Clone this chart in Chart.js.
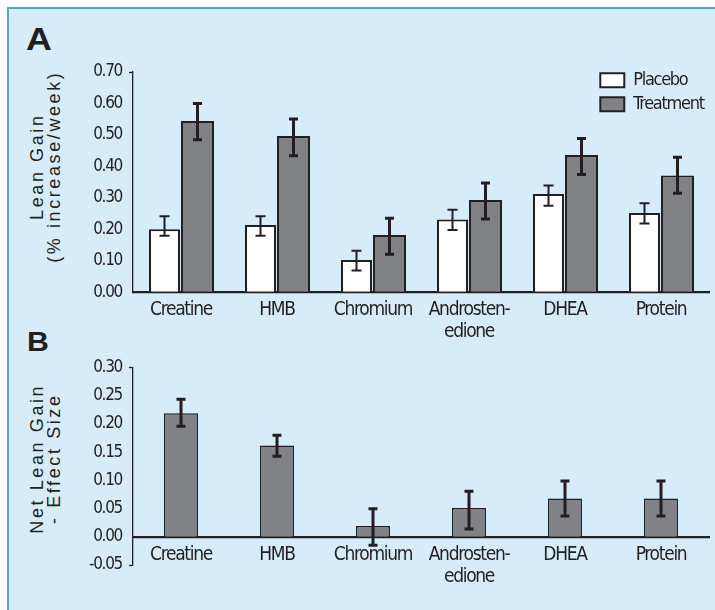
<!DOCTYPE html>
<html>
<head>
<meta charset="utf-8">
<title>Lean Gain by Supplement</title>
<script src="https://cdn.jsdelivr.net/npm/chart.js@4.4.1/dist/chart.umd.min.js"></script>
<style>
  html, body { margin: 0; padding: 0; background: #ffffff; }
  #page { position: relative; width: 715px; height: 610px; overflow: hidden; background: #ffffff; }
  #panel { position: absolute; left: 7px; top: 7px; right: 0; bottom: 0; background: #d6edf9;
           border-top: 2.7px solid #5aa3c8; border-left: 2.7px solid #5aa3c8; }
  canvas { position: absolute; left: 0; }
  #chartA { top: 0; }
  #chartB { top: 340px; }
  .tag { position: absolute; font-family: 'Liberation Sans', Arial, sans-serif; font-weight: bold; color: #231f20; line-height: 1; }
  .ytitle { position: absolute; font-family: 'Liberation Sans', Arial, sans-serif; font-size: 18px; line-height: 17px;
            letter-spacing: 2.6px; padding-left: 2.6px; color: #231f20; text-align: center; white-space: nowrap;
            transform: translate(-50%, -50%) rotate(-90deg); }
</style>
</head>
<body>
<div id="page">
  <div id="panel"></div>
  <div class="tag" style="left:26px; top:22.5px; font-size:32px; transform:scaleX(1.12); transform-origin:left top;">A</div>
  <div class="tag" style="left:27px; top:327.5px; font-size:28px; transform:scaleX(1.08); transform-origin:left top;">B</div>
  <div class="ytitle" style="left:46px; top:168px;">Lean Gain<br>(% increase/week)</div>
  <div class="ytitle" style="left:46px; top:460px;">Net Lean Gain<br>- Effect Size</div>
  <canvas id="chartA" width="715" height="350"></canvas>
  <canvas id="chartB" width="715" height="270"></canvas>
</div>
<script>
// Supplements compared in both panels
const categories = ['Creatine', 'HMB', 'Chromium', ['Androsten-', 'edione'], 'DHEA', 'Protein'];

// Panel A: lean gain, % increase per week
const placeboGain   = [0.200, 0.214, 0.103, 0.231, 0.312, 0.252];
const placeboLow    = [0.180, 0.180, 0.069, 0.198, 0.275, 0.219];
const placeboHigh   = [0.242, 0.242, 0.132, 0.262, 0.339, 0.283];
const treatmentGain = [0.544, 0.497, 0.182, 0.293, 0.436, 0.371];
const treatmentLow  = [0.485, 0.434, 0.121, 0.233, 0.374, 0.315];
const treatmentHigh = [0.600, 0.551, 0.235, 0.347, 0.489, 0.429];
const gainAxis = { min: 0, max: 0.70, step: 0.10 };

// Panel B: net lean gain effect size
const netEffect = [0.219, 0.162, 0.019, 0.051, 0.068, 0.068];
const netLow    = [0.196, 0.143, -0.015, 0.014, 0.037, 0.037];
const netHigh   = [0.244, 0.180, 0.050, 0.081, 0.099, 0.099];
const effectAxis = { min: -0.05, max: 0.30, step: 0.05 };

const INK = '#231f20';
const GREY = '#808285';
const NARROW = "'DejaVu Sans Condensed', 'Liberation Sans', sans-serif";

// Whiskers from each dataset's errLow / errHigh arrays
const errorBars = {
  id: 'errorBars',
  afterDatasetsDraw(chart) {
    const ctx = chart.ctx;
    const yScale = chart.scales.y;
    chart.data.datasets.forEach((ds, di) => {
      if (!ds.errLow) return;
      const meta = chart.getDatasetMeta(di);
      ctx.save();
      ctx.strokeStyle = INK;
      ctx.lineWidth = ds.errWidth;
      ctx.lineCap = 'butt';
      meta.data.forEach((bar, i) => {
        const yTop = yScale.getPixelForValue(ds.errHigh[i]);
        const yBot = yScale.getPixelForValue(ds.errLow[i]);
        const hw = ds.errCap;
        ctx.beginPath();
        ctx.moveTo(bar.x, yTop); ctx.lineTo(bar.x, yBot);
        ctx.moveTo(bar.x - hw, yTop); ctx.lineTo(bar.x + hw, yTop);
        ctx.moveTo(bar.x - hw, yBot); ctx.lineTo(bar.x + hw, yBot);
        ctx.stroke();
      });
      ctx.restore();
    });
  }
};

// Tighter tracking for all chart lettering (condensed look)
const tightText = {
  id: 'tightText',
  beforeDraw(chart) { chart.ctx.letterSpacing = '-1.3px'; },
  afterDraw(chart) { chart.ctx.letterSpacing = '0px'; }
};

// Keeps the in-plot legend in the upper right corner of the plot area
const legendCorner = {
  id: 'legendCorner',
  beforeDraw(chart) {
    const lg = chart.legend;
    if (!lg || !lg.options.display) return;
    const area = chart.chartArea;
    lg.left = area.right - 114.7;
    lg.top = area.top - 6.7;
    lg.right = area.right + 6;
  }
};

// Tick stubs only at the ends of the value axis
function endStub(which) {
  return (c) => {
    const n = c.scale.ticks.length;
    const show = which.includes(c.index === 0 ? 'first' : (c.index === n - 1 ? 'last' : ''));
    return show ? INK : 'rgba(0,0,0,0)';
  };
}

function valueAxis(range, stubs) {
  return {
    min: range.min,
    max: range.max,
    ticks: {
      stepSize: range.step,
      padding: 7,
      color: INK,
      font: { family: NARROW, size: 17 },
      callback: (v) => (Math.abs(v) < 1e-9 ? 0 : Number(v)).toFixed(2)
    },
    grid: { drawOnChartArea: false, drawTicks: true, tickLength: 4, tickWidth: 1.3, tickColor: endStub(stubs) },
    border: { color: INK, width: 1.3 },
    afterFit: (s) => { s.width = 133; }
  };
}

function categoryTicks() {
  return {
    padding: 7,
    color: INK,
    autoSkip: false,
    maxRotation: 0,
    font: { family: NARROW, size: 19, lineHeight: 1.15 }
  };
}

new Chart(document.getElementById('chartA'), {
  type: 'bar',
  data: {
    labels: categories,
    datasets: [
      {
        label: 'Placebo',
        data: placeboGain,
        errLow: placeboLow, errHigh: placeboHigh, errWidth: 2, errCap: 5,
        backgroundColor: '#ffffff',
        borderColor: INK,
        borderWidth: 2,
        categoryPercentage: 0.6875,
        barPercentage: 0.94
      },
      {
        label: 'Treatment',
        data: treatmentGain,
        errLow: treatmentLow, errHigh: treatmentHigh, errWidth: 3, errCap: 4.5,
        backgroundColor: GREY,
        borderColor: INK,
        borderWidth: 2,
        categoryPercentage: 0.6875,
        barPercentage: 1
      }
    ]
  },
  options: {
    responsive: false,
    animation: false,
    devicePixelRatio: 1,
    events: [],
    layout: { padding: { top: 72, right: 6, left: 0, bottom: 0 } },
    scales: {
      x: {
        ticks: categoryTicks(),
        grid: { drawOnChartArea: false, drawTicks: false },
        border: { color: INK, width: 2.2 },
        afterFit: (s) => { s.height = 57.7; }
      },
      y: valueAxis(gainAxis, ['last'])
    },
    plugins: {
      legend: {
        display: true,
        position: 'chartArea',
        align: 'start',
        labels: {
          boxWidth: 24,
          boxHeight: 14,
          padding: 6,
          color: INK,
          font: { family: NARROW, size: 18 }
        }
      },
      tooltip: { enabled: false }
    }
  },
  plugins: [tightText, errorBars, legendCorner]
});

new Chart(document.getElementById('chartB'), {
  type: 'bar',
  data: {
    labels: categories,
    datasets: [
      {
        label: 'Net effect',
        data: netEffect,
        errLow: netLow, errHigh: netHigh, errWidth: 3, errCap: 4.5,
        backgroundColor: GREY,
        borderColor: INK,
        borderWidth: 1.5,
        categoryPercentage: 0.354,
        barPercentage: 1
      }
    ]
  },
  options: {
    responsive: false,
    animation: false,
    devicePixelRatio: 1,
    events: [],
    layout: { padding: { top: 27.7, right: 6, left: 0, bottom: 45 } },
    scales: {
      x: {
        position: { y: 0 },
        ticks: categoryTicks(),
        grid: { drawOnChartArea: false, drawTicks: false },
        border: { color: INK, width: 2.2 }
      },
      y: valueAxis(effectAxis, ['first', 'last'])
    },
    plugins: {
      legend: { display: false },
      tooltip: { enabled: false }
    }
  },
  plugins: [tightText, errorBars]
});
</script>
</body>
</html>
